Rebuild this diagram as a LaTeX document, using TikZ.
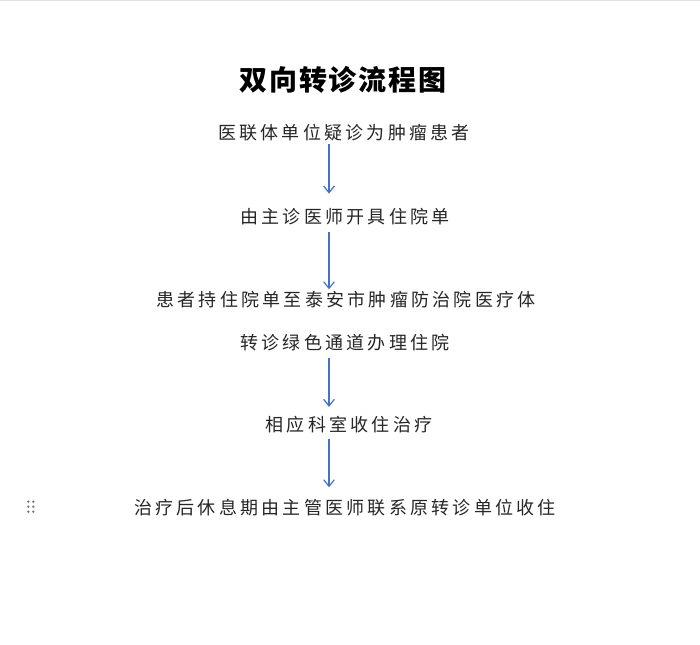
\documentclass[tikz,border=0pt]{standalone}
\usepackage{fontspec}
\usepackage{tikz}
\usetikzlibrary{arrows.meta}
\newfontfamily\cjk{Noto Sans CJK SC}[LetterSpace=18]
\newfontfamily\cjktitle{Noto Sans CJK SC}[LetterSpace=6]
\definecolor{arrowblue}{RGB}{68,114,196}
\definecolor{handlegray}{RGB}{120,120,120}
\tikzset{
  steptext/.style={inner sep=0pt, font=\cjk\fontsize{13.5pt}{16pt}\selectfont, text=black!85},
  flow/.style={-{Straight Barb[length=5pt,width=8pt]}, arrowblue, line width=0.9pt},
}

\begin{document}
\begin{tikzpicture}[x=0.75pt,y=-0.75pt]
\useasboundingbox (0,0) rectangle (700,644);
\fill[white] (0,0) rectangle (700,644);
\draw[black!12, line width=1pt] (0,0.5) -- (700,0.5);
% title
\node[inner sep=0pt, font=\cjktitle\bfseries\fontsize{21pt}{24pt}\selectfont] (title) at (343,80) {双向转诊流程图};
% steps
\node[steptext] (s1) at (344,133) {医联体单位疑诊为肿瘤患者};
\node[steptext] (s2) at (345,217) {由主诊医师开具住院单};
\node[steptext] (s3) at (346,300) {患者持住院单至泰安市肿瘤防治院医疗体};
\node[steptext] (s4) at (345,343) {转诊绿色通道办理住院};
\node[steptext] (s5) at (349,425) {相应科室收住治疗};
\node[steptext] (s6) at (345,508) {治疗后休息期由主管医师联系原转诊单位收住};
\coordinate (ax) at (329,0);
% arrows
\draw[flow, shorten <=2pt, shorten >=11pt] (s1.south -| ax) -- (s2.north -| ax);
\draw[flow, shorten <=5pt, shorten >=1.5pt] (s2.south -| ax) -- (s3.north -| ax);
\draw[flow, shorten <=4.5pt, shorten >=7pt] (s4.south -| ax) -- (s5.north -| ax);
\draw[flow, shorten <=4pt, shorten >=9pt] (s5.south -| ax) -- (s6.north -| ax);
% drag handle
\foreach \i in {0,1}
  \foreach \j in {0,1,2}
    \fill[handlegray] (28.3+5*\i,501.7+5*\j) circle (1.3);
\end{tikzpicture}
\end{document}
